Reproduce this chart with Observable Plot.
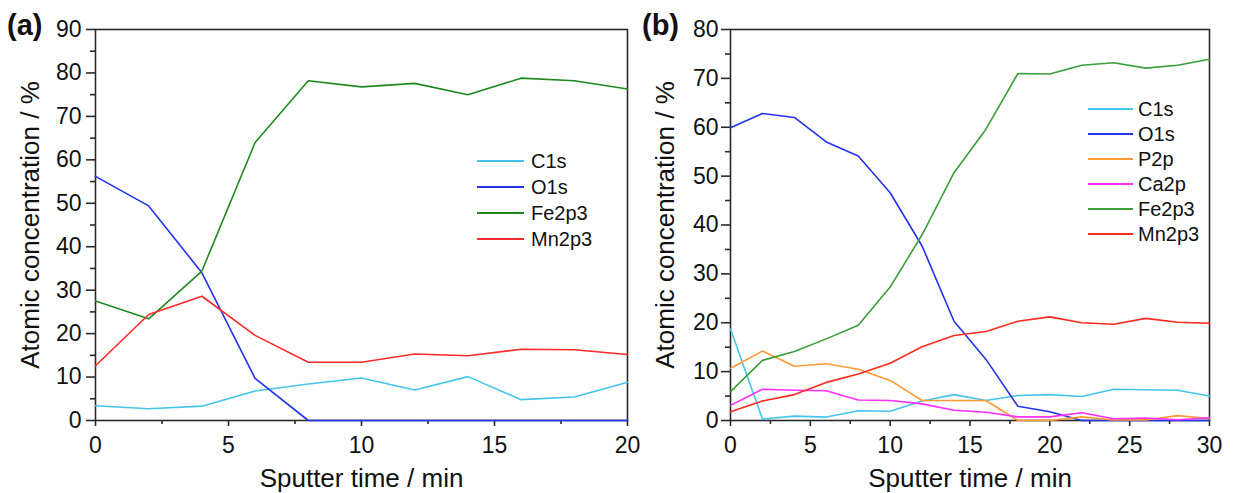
<!DOCTYPE html>
<html>
<head>
<meta charset="utf-8">
<script src="https://cdn.jsdelivr.net/npm/d3@7"></script>
<script src="https://cdn.jsdelivr.net/npm/@observablehq/plot@0.6"></script>
<style>
  html, body { margin: 0; padding: 0; background: #fff; }
  body { width: 1234px; height: 493px; position: relative; overflow: hidden; font-family: "Liberation Sans", Arial, sans-serif; }
  #a { position: absolute; left: 0; top: 0; }
  #b { position: absolute; left: 640px; top: 0; }
  .plab { position: absolute; font-weight: bold; font-size: 29px; line-height: 29px; color: #111; }
  .leg { position: absolute; font-size: 20px; line-height: 20px; color: #111; }
  .leg .row { position: absolute; left: 0; white-space: nowrap; }
  .leg .sw { position: absolute; left: 0; top: 9px; height: 2px; }
  .leg .tx { position: absolute; top: 0; }
</style>
</head>
<body>
<div id="a"></div>
<div id="b"></div>
<div class="plab" style="left:7px;top:11px;">(a)</div>
<div class="plab" style="left:642px;top:11px;">(b)</div>
<div class="leg" id="legA" style="left:477px;top:151px;"></div>
<div class="leg" id="legB" style="left:1088px;top:99px;"></div>
<script>
// ---------- data ----------
const timeA = [0, 2, 4, 6, 8, 10, 12, 14, 16, 18, 20];
const seriesA = ["C1s", "O1s", "Fe2p3", "Mn2p3"];
const c1sA  = [3.4, 2.7, 3.3, 6.8, 8.4, 9.8, 7.0, 10.1, 4.8, 5.4, 8.8];
const o1sA  = [56.2, 49.4, 34.0, 9.7, 0, 0, 0, 0, 0, 0, 0];
const fe2p3A = [27.5, 23.4, 34.4, 64.0, 78.2, 76.8, 77.6, 75.0, 78.8, 78.2, 76.3];
const mn2p3A = [12.6, 24.4, 28.6, 19.6, 13.4, 13.4, 15.3, 14.9, 16.4, 16.3, 15.2];

const timeB = [0, 2, 4, 6, 8, 10, 12, 14, 16, 18, 20, 22, 24, 26, 28, 30];
const seriesB = ["C1s", "O1s", "P2p", "Ca2p", "Fe2p3", "Mn2p3"];
const c1sB  = [18.7, 0.3, 0.9, 0.7, 2.0, 1.9, 4.0, 5.3, 4.1, 5.1, 5.3, 4.9, 6.4, 6.3, 6.2, 5.0];
const o1sB  = [59.9, 62.8, 62.0, 57.0, 54.1, 46.6, 35.7, 20.3, 12.5, 2.9, 1.8, 0, 0, 0, 0, 0];
const p2pB  = [10.7, 14.2, 11.1, 11.6, 10.5, 8.2, 4.1, 4.1, 4.1, 0, 0, 0.75, 0.1, 0.1, 1.0, 0.4];
const ca2pB = [3.1, 6.4, 6.2, 6.1, 4.2, 4.1, 3.4, 2.1, 1.7, 0.75, 0.75, 1.6, 0.35, 0.5, 0.15, 0.55];
const fe2p3B = [5.9, 12.3, 14.1, 16.7, 19.5, 27.3, 38.0, 50.7, 59.6, 71.0, 70.9, 72.7, 73.2, 72.1, 72.7, 73.9];
const mn2p3B = [1.8, 4.0, 5.3, 7.8, 9.5, 11.7, 15.1, 17.4, 18.2, 20.3, 21.2, 20.0, 19.7, 20.9, 20.1, 19.9];

const colorsA = ["#45c4ec", "#2233ee", "#1e8a1e", "#ff2a2a"];
const colorsB = ["#45c4ec", "#2233ee", "#ff9a33", "#ff2eff", "#3a9e3a", "#ff2a1e"];

const yTicksA = [0, 10, 20, 30, 40, 50, 60, 70, 80, 90];
const yMinorA = [5, 15, 25, 35, 45, 55, 65, 75, 85];
const xTicksA = [0, 5, 10, 15, 20];
const xMinorA = [2.5, 7.5, 12.5, 17.5];
const yTicksB = [0, 10, 20, 30, 40, 50, 60, 70, 80];
const yMinorB = [5, 15, 25, 35, 45, 55, 65, 75];
const xTicksB = [0, 5, 10, 15, 20, 25, 30];
const xMinorB = [2.5, 7.5, 12.5, 17.5, 22.5, 27.5];

const xLabel = "Sputter time / min";
const yLabel = "Atomic concentration / %";

// ---------- build tidy tables ----------
function tidy(times, names, arrays) {
  const out = [];
  names.forEach((n, i) => times.forEach((t, j) => out.push({t, v: arrays[i][j], s: n})));
  return out;
}
const dataA = tidy(timeA, seriesA, [c1sA, o1sA, fe2p3A, mn2p3A]);
const dataB = tidy(timeB, seriesB, [c1sB, o1sB, p2pB, ca2pB, fe2p3B, mn2p3B]);

const FONT = "'Liberation Sans', Arial, sans-serif";
const AX = "#2a2a2a";

function panel({data, names, colors, width, ml, mr, xDom, yDom, xT, xM, yT, yM, yPad}) {
  return Plot.plot({
    width, height: 493,
    marginLeft: ml, marginRight: mr, marginTop: 29, marginBottom: 73,
    style: {fontFamily: FONT, color: "#111", background: "white", overflow: "visible"},
    x: {domain: xDom},
    y: {domain: yDom},
    color: {domain: names, range: colors},
    marks: [
      Plot.axisY({ticks: yT, tickSize: 9, tickPadding: yPad, fontSize: 23, stroke: AX, strokeWidth: 1.6,
        label: yLabel, labelAnchor: "center", labelArrow: "none", labelOffset: 75}),
      Plot.axisY({ticks: yM, tickSize: 5, text: null, label: null, stroke: AX, strokeWidth: 1.6}),
      Plot.axisX({ticks: xT, tickSize: 6, tickPadding: 10, fontSize: 23, stroke: AX, strokeWidth: 1.6,
        label: xLabel, labelAnchor: "center", labelArrow: "none", labelOffset: 66}),
      Plot.axisX({ticks: xM, tickSize: 4, text: null, label: null, stroke: AX, strokeWidth: 1.6}),
      Plot.frame({stroke: AX, strokeWidth: 1.6}),
      Plot.line(data, {x: "t", y: "v", z: "s", stroke: "s", strokeWidth: 1.6, strokeLinejoin: "round"})
    ]
  });
}

const plotA = panel({data: dataA, names: seriesA, colors: colorsA, width: 640, ml: 95, mr: 13,
  xDom: [0, 20], yDom: [0, 90], xT: xTicksA, xM: xMinorA, yT: yTicksA, yM: yMinorA, yPad: 5});
const plotB = panel({data: dataB, names: seriesB, colors: colorsB, width: 594, ml: 90, mr: 25,
  xDom: [0, 30], yDom: [0, 80], xT: xTicksB, xM: xMinorB, yT: yTicksB, yM: yMinorB, yPad: 3});
document.getElementById("a").appendChild(plotA);
document.getElementById("b").appendChild(plotB);

// axis label font sizes
for (const svg of [plotA, plotB]) {
  svg.querySelectorAll("[aria-label='y-axis label'], [aria-label='x-axis label']").forEach(g => {
    g.setAttribute("font-size", 26);
    g.querySelectorAll("text").forEach(t => t.setAttribute("font-size", 26));
  });
}

// legends
function legend(id, names, colors, lineW, gap, step) {
  const el = document.getElementById(id);
  names.forEach((n, i) => {
    const row = document.createElement("div");
    row.className = "row";
    row.style.top = (i * step) + "px";
    const sw = document.createElement("div");
    sw.className = "sw";
    sw.style.width = lineW + "px";
    sw.style.background = colors[i];
    const tx = document.createElement("div");
    tx.className = "tx";
    tx.style.left = (lineW + gap) + "px";
    tx.textContent = n;
    row.appendChild(sw); row.appendChild(tx);
    el.appendChild(row);
  });
}
legend("legA", seriesA, colorsA, 47, 7, 26);
legend("legB", seriesB, colorsB, 45, 5, 25);
</script>
</body>
</html>
